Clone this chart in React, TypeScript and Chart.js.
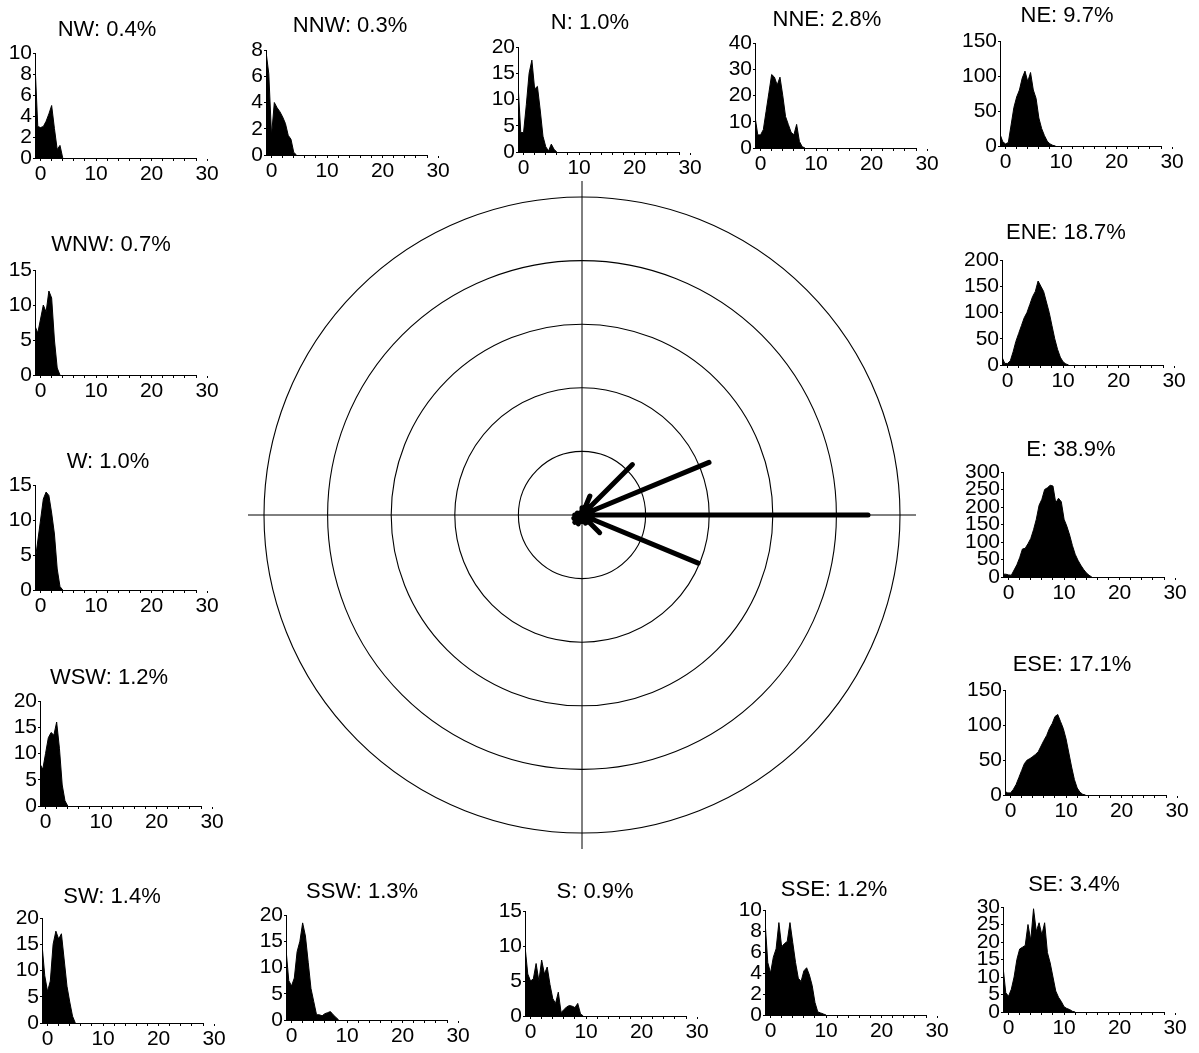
import React, { useEffect, useRef } from 'react';
import { Chart, registerables } from 'chart.js';

Chart.register(...registerables);

// ---------- DATA ----------
const dirNames = ['N', 'NNE', 'NE', 'ENE', 'E', 'ESE', 'SE', 'SSE', 'S', 'SSW', 'SW', 'WSW', 'W', 'WNW', 'NW', 'NNW'];
const dirPercents = [1.0, 2.8, 9.7, 18.7, 38.9, 17.1, 3.4, 1.2, 0.9, 1.3, 1.4, 1.2, 1.0, 0.7, 0.4, 0.3];

// wind-speed bins (x values of the histograms)
const speeds = [-1, -0.5, 0, 0.5, 1, 1.5, 2, 2.5, 3, 3.5, 4, 4.5, 5, 5.5, 6, 6.5, 7, 7.5, 8, 8.5, 9, 9.5, 10, 10.5, 11, 11.5, 12, 12.5, 13, 13.5, 14, 14.5, 15];

const countsN = [13, 3.7, 3.7, 9, 15, 17.5, 12, 12.5, 8, 3, 1, 0.2, 1.5, 0.5, 0];
const countsNNE = [12, 5, 5, 7, 14, 21, 28, 27, 24, 27, 20, 12, 9, 6, 5, 9, 2.5, 0.5, 0];
const countsNE = [17, 6, 3, 5, 30, 55, 70, 80, 97, 107, 92, 105, 80, 68, 40, 25, 15, 7, 3, 1, 0];
const countsENE = [15, 3, 3, 8, 25, 45, 60, 75, 90, 100, 115, 130, 140, 160, 150, 140, 120, 100, 75, 50, 30, 15, 6, 2, 0];
const countsE = [8, 8, 6, 5, 20, 35, 55, 80, 82, 95, 110, 135, 165, 205, 222, 250, 255, 262, 260, 212, 225, 215, 165, 145, 120, 90, 65, 48, 34, 22, 12, 5, 0];
const countsESE = [5, 3, 3, 8, 15, 25, 35, 45, 50, 52, 55, 58, 62, 70, 78, 85, 95, 102, 112, 115, 105, 95, 80, 60, 40, 22, 10, 4, 1, 0];
const countsSE = [13, 5.5, 4.5, 6.5, 10, 15, 18, 18.5, 19, 25, 20.5, 29.5, 23, 25.5, 22, 25.5, 17, 14, 10, 6, 4.2, 3, 1.5, 1, 0.7, 0.2, 0];
const countsSSE = [9, 5, 4, 5.5, 6.3, 8.8, 6.5, 6.8, 7, 8.8, 6.9, 5, 3.5, 3.2, 4.2, 4.5, 3.8, 2.8, 1.2, 0.3, 0.2, 0.1, 0];
const countsS = [10, 6, 5, 5.3, 7.5, 5, 8, 6, 7, 4.5, 2.5, 1.8, 3.4, 0.5, 0.9, 1.3, 1.5, 1.4, 1.2, 1.8, 0.3, 0];
const countsSSW = [13.5, 7.5, 6.5, 8, 13, 15, 18.5, 16, 11, 6, 3.5, 1, 1, 0.8, 1.2, 1.4, 1.6, 1, 0.5, 0];
const countsSW = [15, 9, 6, 8, 15, 17.5, 16, 17, 12, 7, 4, 1.3, 0];
const countsWSW = [8, 7, 10, 13, 14, 13.5, 16, 11, 4, 1, 0];
const countsW = [4, 7, 10, 13, 14, 13.5, 11, 8, 3, 0.5, 0];
const countsWNW = [7, 6, 8, 10, 9, 12, 11, 5, 1, 0];
const countsNW = [9, 3, 2.9, 3.0, 3.5, 4.2, 5.0, 2.8, 0.8, 1.2, 0];
const countsNNW = [7.9, 6.2, 1.5, 4.0, 3.6, 3.3, 2.9, 2.4, 1.5, 1.2, 0.2, 0];

const dirCounts = [countsN, countsNNE, countsNE, countsENE, countsE, countsESE, countsSE, countsSSE, countsS, countsSSW, countsSW, countsWSW, countsW, countsWNW, countsNW, countsNNW];

const yMaxes = [20, 40, 150, 200, 300, 150, 30, 10, 15, 20, 20, 20, 15, 15, 10, 8];
const ySteps = [5, 10, 50, 50, 50, 50, 5, 2, 5, 5, 5, 5, 5, 5, 2, 2];

const xTickValues = [0, 2, 4, 6, 8, 10, 12, 14, 16, 18, 20, 22, 24, 26, 28, 30];
const xMin = -1;
const xMax = 28;

// rose ring values (percent)
const ringValues = [0, 8.65, 17.3, 25.95, 34.6, 43.25];

// ---------- LAYOUT ----------
const panelLayout = [
  { axisX: 518, botY: 152, titleX: 590, titleY: 23 },   // N
  { axisX: 755, botY: 148, titleX: 827, titleY: 20 },   // NNE
  { axisX: 1000, botY: 146, titleX: 1067, titleY: 16 }, // NE
  { axisX: 1002, botY: 365, titleX: 1066, titleY: 233 },// ENE
  { axisX: 1003, botY: 577, titleX: 1071, titleY: 450 },// E
  { axisX: 1005, botY: 795, titleX: 1072, titleY: 665 },// ESE
  { axisX: 1003, botY: 1012, titleX: 1074, titleY: 885 },// SE
  { axisX: 765, botY: 1015, titleX: 834, titleY: 890 }, // SSE
  { axisX: 525, botY: 1016, titleX: 595, titleY: 892 }, // S
  { axisX: 286, botY: 1020, titleX: 362, titleY: 892 }, // SSW
  { axisX: 42, botY: 1023, titleX: 112, titleY: 897 },  // SW
  { axisX: 40, botY: 806, titleX: 109, titleY: 678 },   // WSW
  { axisX: 35, botY: 590, titleX: 108, titleY: 462 },   // W
  { axisX: 35, botY: 375, titleX: 111, titleY: 245 },   // WNW
  { axisX: 35, botY: 158, titleX: 107, titleY: 30 },    // NW
  { axisX: 266, botY: 155, titleX: 350, titleY: 26 },   // NNW
];

const FONT = "'Liberation Sans', Arial, Helvetica, sans-serif";
const PANEL_W = 232;
const PANEL_H = 175;
const Y_AXIS_W = 45;
const X_AXIS_H = 30;
const TOP_PAD = 40;
const RIGHT_PAD = 26;

const ROSE_SIZE = 700;
const ROSE_PAD = 32;
const ROSE_CX = 582;
const ROSE_CY = 515;

Chart.defaults.font.family = FONT;
Chart.defaults.color = '#000';

export default function App() {
  const panelRefs = useRef<(HTMLCanvasElement | null)[]>([]);
  const roseRef = useRef<HTMLCanvasElement | null>(null);

  useEffect(() => {
    const charts: Chart[] = [];

    dirNames.forEach((name, i) => {
      const cv = panelRefs.current[i];
      if (!cv) return;
      const lay = panelLayout[i];
      const left = lay.axisX - Y_AXIS_W;
      const top = lay.botY - (PANEL_H - X_AXIS_H);
      const title = `${name}: ${dirPercents[i].toFixed(1)}%`;
      const counts = dirCounts[i];
      const titlePlugin = {
        id: 'panelTitle',
        afterDraw(chart: any) {
          const ctx = chart.ctx;
          ctx.save();
          ctx.font = `22px ${FONT}`;
          ctx.fillStyle = '#000';
          ctx.textAlign = 'center';
          ctx.textBaseline = 'middle';
          ctx.fillText(title, lay.titleX - left, lay.titleY - top);
          ctx.restore();
        },
      };
      charts.push(
        new Chart(cv, {
          type: 'line',
          data: {
            datasets: [
              {
                data: counts.map((c, k) => ({ x: speeds[k], y: c })),
                fill: 'origin',
                backgroundColor: '#000',
                borderColor: '#000',
                borderWidth: 1,
                pointRadius: 0,
                tension: 0,
              },
            ],
          },
          options: {
            animation: false,
            responsive: false,
            layout: { padding: { top: TOP_PAD, right: RIGHT_PAD, left: 0, bottom: 0 } },
            plugins: { legend: { display: false }, tooltip: { enabled: false }, title: { display: false } },
            scales: {
              x: {
                type: 'linear',
                min: xMin,
                max: xMax,
                afterBuildTicks: (s: any) => {
                  s.ticks = xTickValues.map((v) => ({ value: v }));
                },
                afterFit: (s: any) => {
                  s.height = X_AXIS_H;
                },
                ticks: {
                  autoSkip: false,
                  maxRotation: 0,
                  padding: 1,
                  color: '#000',
                  font: { size: 21 },
                  callback: (v: any) => (Number(v) % 10 === 0 ? String(v) : ''),
                },
                grid: { drawOnChartArea: false, tickLength: 3, color: '#000' },
                border: { color: '#000', width: 1 },
              },
              y: {
                min: 0,
                max: yMaxes[i],
                afterFit: (s: any) => {
                  s.width = Y_AXIS_W;
                },
                ticks: { stepSize: ySteps[i], padding: 1, color: '#000', font: { size: 21, lineHeight: 1 }, autoSkip: false },
                grid: { drawOnChartArea: false, tickLength: 2, color: '#000' },
                border: { color: '#000', width: 1 },
              },
            },
          },
          plugins: [titlePlugin],
        } as any)
      );
    });

    if (roseRef.current) {
      const roseLabels: string[] = [];
      const roseData: number[] = [];
      dirNames.forEach((n, i) => {
        roseLabels.push(n, '');
        roseData.push(dirPercents[i], 0);
      });
      const crossPlugin = {
        id: 'roseCross',
        beforeDatasetsDraw(chart: any) {
          const r = chart.scales.r;
          const ctx = chart.ctx;
          const ext = r.drawingArea + 16;
          ctx.save();
          ctx.strokeStyle = '#000';
          ctx.lineWidth = 1;
          ctx.beginPath();
          ctx.moveTo(r.xCenter - ext, r.yCenter);
          ctx.lineTo(r.xCenter + ext, r.yCenter);
          ctx.moveTo(r.xCenter, r.yCenter - ext);
          ctx.lineTo(r.xCenter, r.yCenter + ext);
          ctx.stroke();
          ctx.restore();
        },
      };
      charts.push(
        new Chart(roseRef.current, {
          type: 'radar',
          data: {
            labels: roseLabels,
            datasets: [
              {
                data: roseData,
                borderColor: '#000',
                borderWidth: 5,
                pointRadius: 0,
                fill: false,
                tension: 0,
                borderCapStyle: 'round',
                borderJoinStyle: 'round',
              },
            ],
          },
          options: {
            animation: false,
            responsive: false,
            layout: { padding: ROSE_PAD },
            plugins: { legend: { display: false }, tooltip: { enabled: false } },
            scales: {
              r: {
                min: 0,
                max: ringValues[ringValues.length - 1],
                afterBuildTicks: (s: any) => {
                  s.ticks = ringValues.map((v) => ({ value: v }));
                },
                ticks: { display: false },
                grid: { circular: true, color: '#000', lineWidth: 1.1 },
                angleLines: { display: false },
                pointLabels: { display: false },
              },
            },
          },
          plugins: [crossPlugin],
        } as any)
      );
    }

    return () => charts.forEach((c) => c.destroy());
  }, []);

  return (
    <div style={{ position: 'absolute', left: 0, top: 0, width: 1199, height: 1053, background: '#fff', overflow: 'hidden' }}>
      <canvas
        ref={roseRef}
        width={ROSE_SIZE}
        height={ROSE_SIZE}
        style={{ position: 'absolute', left: ROSE_CX - ROSE_SIZE / 2, top: ROSE_CY - ROSE_SIZE / 2, width: ROSE_SIZE, height: ROSE_SIZE }}
      />
      {dirNames.map((n, i) => (
        <canvas
          key={n}
          ref={(el) => {
            panelRefs.current[i] = el;
          }}
          width={PANEL_W}
          height={PANEL_H}
          style={{
            position: 'absolute',
            left: panelLayout[i].axisX - Y_AXIS_W,
            top: panelLayout[i].botY - (PANEL_H - X_AXIS_H),
            width: PANEL_W,
            height: PANEL_H,
          }}
        />
      ))}
    </div>
  );
}
